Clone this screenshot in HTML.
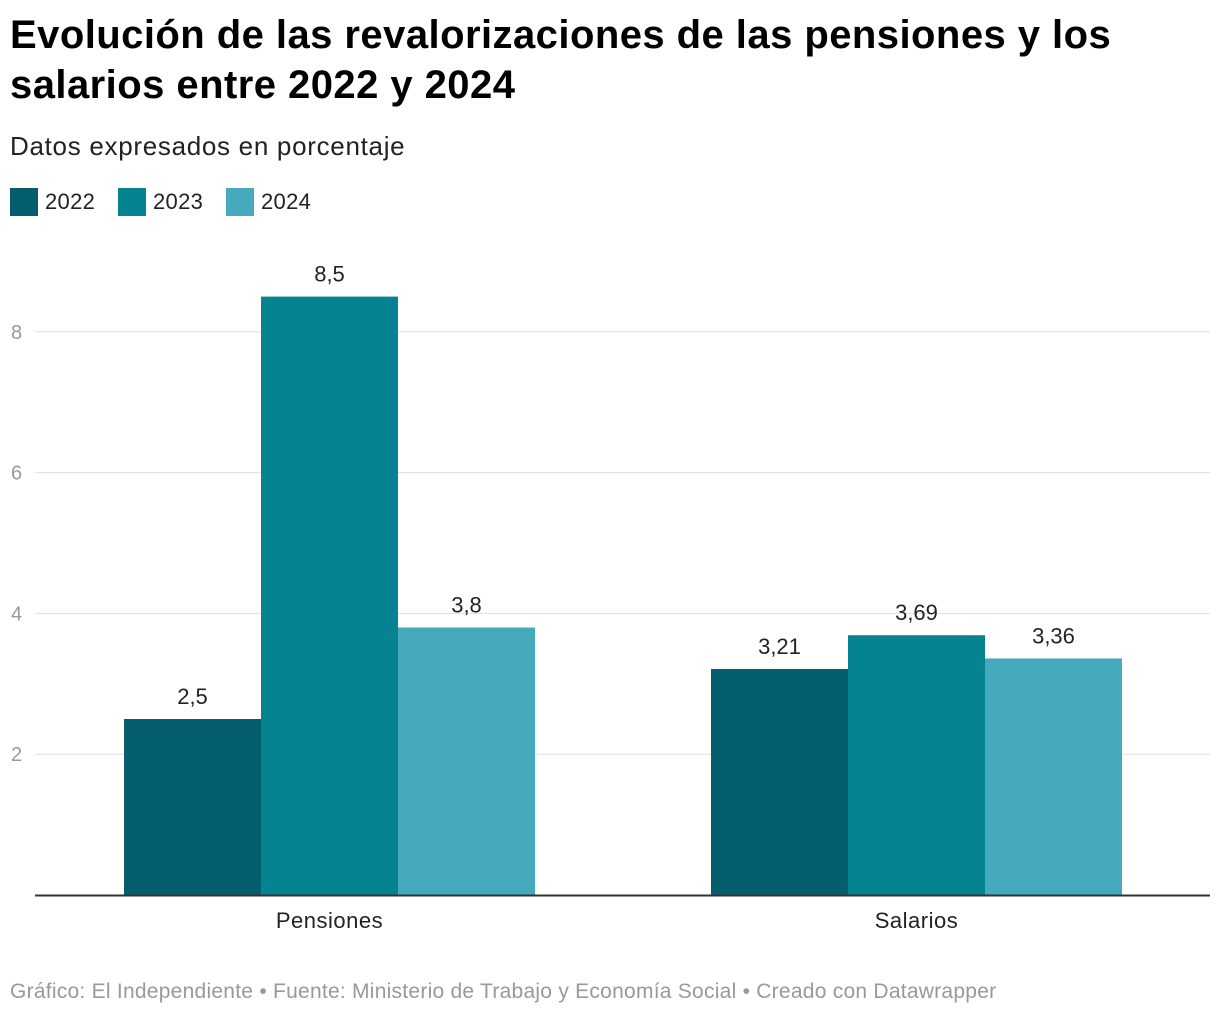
<!DOCTYPE html>
<html><head><meta charset="utf-8"><style>
body{margin:0;width:1220px;height:1016px;background:#fff;font-family:"Liberation Sans",Roboto,sans-serif;overflow:hidden;position:relative}
h1{position:absolute;left:10px;top:10px;margin:0;font-size:40px;line-height:50px;font-weight:bold;color:#000;letter-spacing:0.45px;white-space:nowrap}
.sub{position:absolute;left:10px;top:131px;font-size:26px;letter-spacing:0.7px;color:#222;white-space:nowrap}
.leg{position:absolute;top:188px;display:flex;align-items:center;font-size:22px;color:#222;letter-spacing:0.3px}
.leg span.sw{width:28px;height:28px;margin-right:7px;display:inline-block}
.foot{position:absolute;left:10px;top:980px;font-size:21px;letter-spacing:0.25px;color:#999;white-space:nowrap}
svg{position:absolute;left:0;top:0}
</style></head><body>
<h1>Evolución de las revalorizaciones de las pensiones y los<br>salarios entre 2022 y 2024</h1>
<div class="sub">Datos expresados en porcentaje</div>
<div class="leg" style="left:10px"><span class="sw" style="background:#045e6d"></span>2022</div>
<div class="leg" style="left:118px"><span class="sw" style="background:#058391"></span>2023</div>
<div class="leg" style="left:226px"><span class="sw" style="background:#46aabd"></span>2024</div>
<svg id="chart" width="1220" height="1016"></svg>
<div class="foot">Gráfico: El Independiente • Fuente: Ministerio de Trabajo y Economía Social • Creado con Datawrapper</div>
<script>
const categories=["Pensiones","Salarios"];
const series=["2022","2023","2024"];
const v2022=[2.5,3.21];
const v2023=[8.5,3.69];
const v2024=[3.8,3.36];
const labels2022=["2,5","3,21"];
const labels2023=["8,5","3,69"];
const labels2024=["3,8","3,36"];
const ticks=[2,4,6,8];
const colors=["#045e6d","#058391","#46aabd"];
const svg=document.getElementById('chart');
const NS="http://www.w3.org/2000/svg";
const y=v=>895-v*70.4;
const groupStart=[124,711],bw=137;
function mk(t,a,txt){const e=document.createElementNS(NS,t);for(const k in a)e.setAttribute(k,a[k]);if(txt!==undefined)e.textContent=txt;svg.appendChild(e);return e;}
ticks.forEach(t=>{
 const l=mk('line',{x1:35,x2:1210,y1:y(t),y2:y(t),stroke:'#e0e0e0','stroke-width':1});
 
 
 const tx=mk('text',{x:11,y:y(t)+7,'font-size':20,fill:'#999','font-family':'Liberation Sans, sans-serif'},t);
 
 
});
const vals=[v2022,v2023,v2024],labs=[labels2022,labels2023,labels2024];
categories.forEach((c,ci)=>{
 vals.forEach((arr,si)=>{
  const x=groupStart[ci]+si*bw;
  const r=mk('rect',{x:x,y:y(arr[ci]),width:bw,height:895-y(arr[ci]),fill:colors[si]});
  
  
  const t=mk('text',{x:x+bw/2,y:y(arr[ci])-15,'text-anchor':'middle','font-size':22,fill:'#222','font-family':'Liberation Sans, sans-serif'},labs[si][ci]);
  
  
 });
 const t=mk('text',{x:groupStart[ci]+1.5*bw,y:928,'text-anchor':'middle','font-size':22,'letter-spacing':0.5,fill:'#222','font-family':'Liberation Sans, sans-serif'},c);
 
 
});
const ax=mk('line',{x1:35,x2:1210,y1:895.5,y2:895.5,stroke:'#333','stroke-width':2});


</script>
</body></html>
